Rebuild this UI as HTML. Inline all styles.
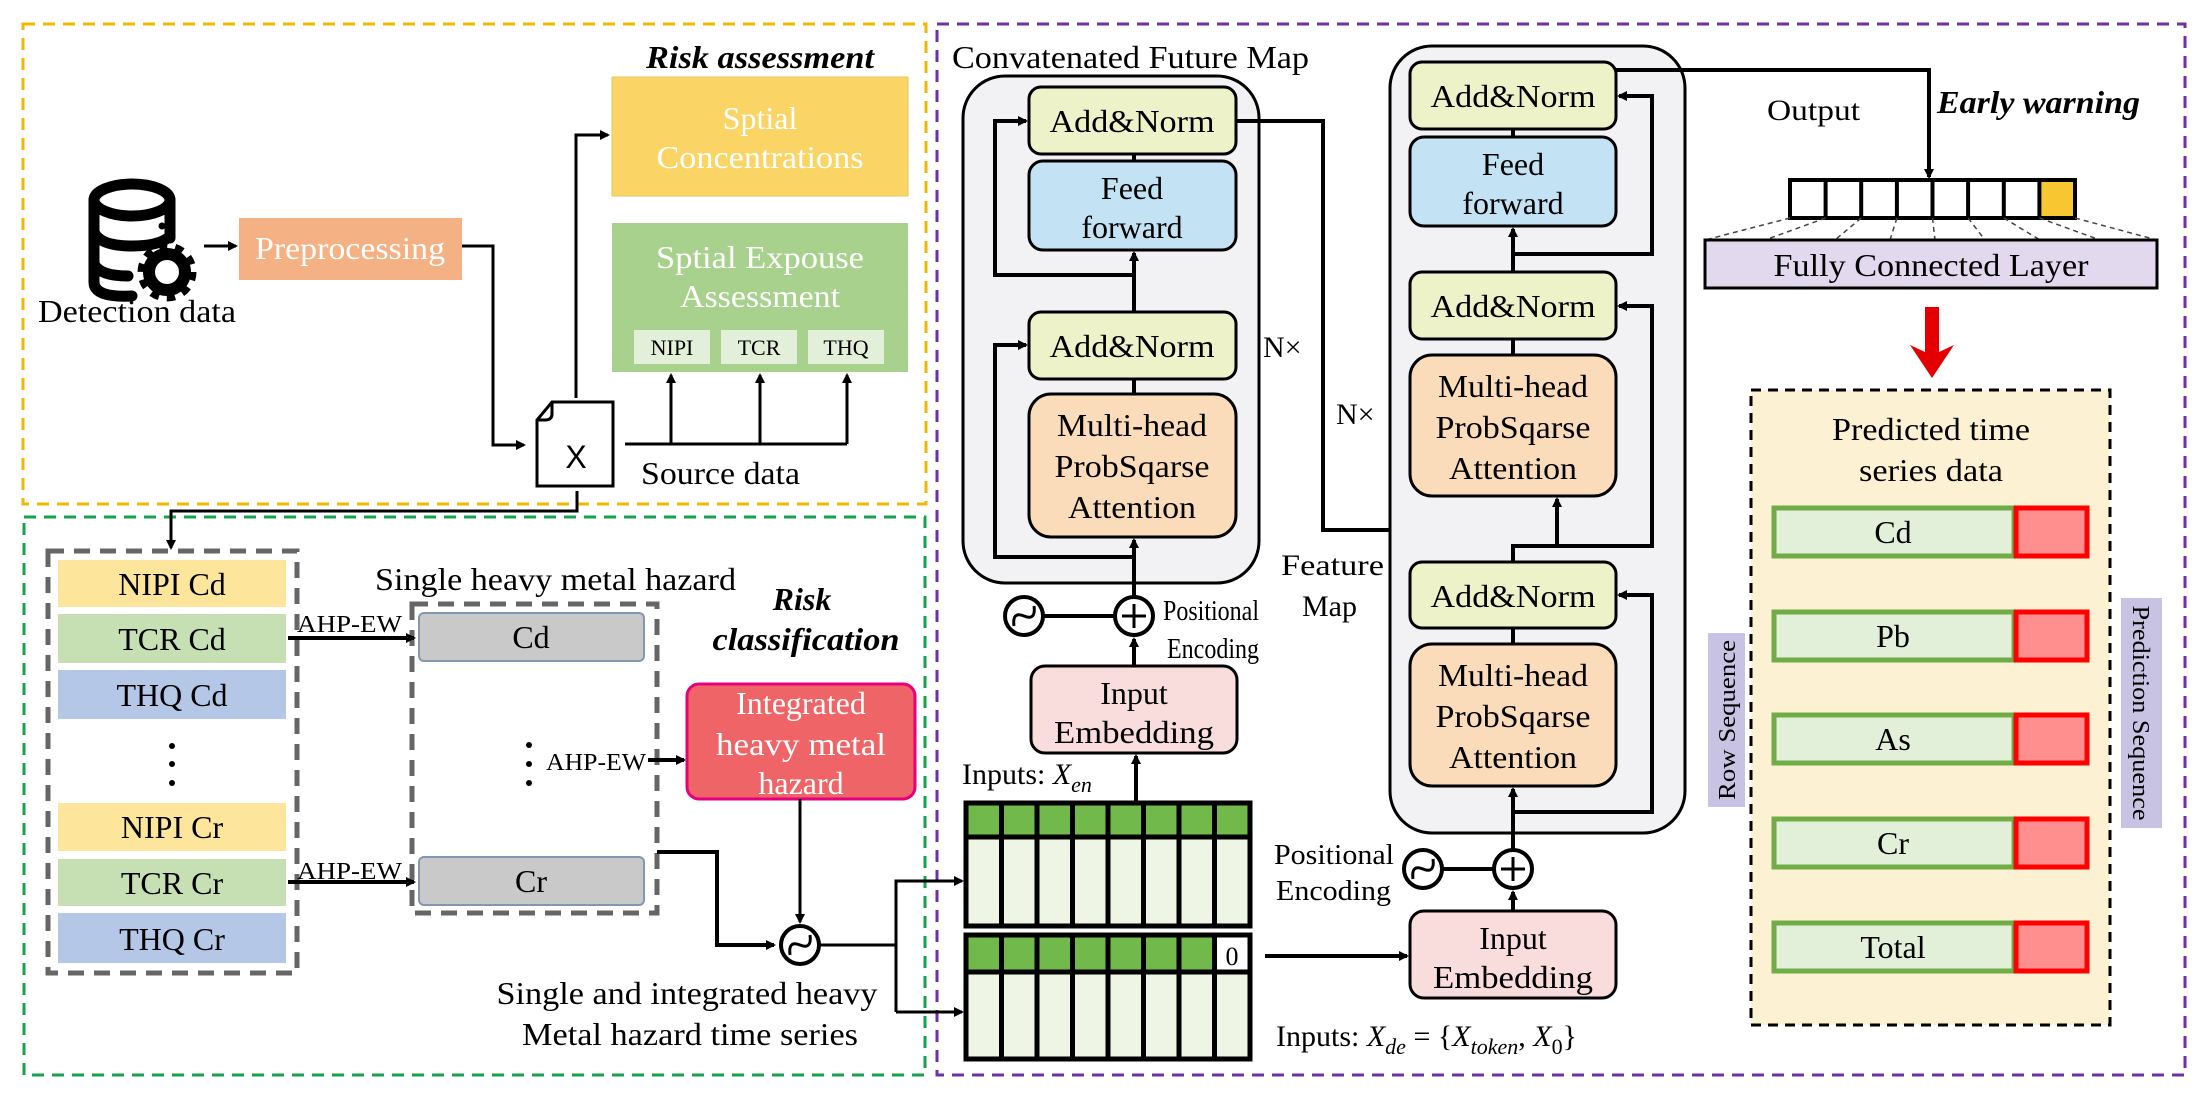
<!DOCTYPE html>
<html><head><meta charset="utf-8"><style>
html,body{margin:0;padding:0;background:#fff;}
svg{display:block;font-family:"Liberation Serif",serif;}
svg text{font-family:"Liberation Serif",serif;}
</style></head><body>
<svg width="2212" height="1097" viewBox="0 0 2212 1097" xmlns="http://www.w3.org/2000/svg" font-family="Liberation Serif, serif">
<defs>
<marker id="a" markerWidth="10" markerHeight="10" refX="8" refY="5" orient="auto" markerUnits="userSpaceOnUse"><path d="M0,0 L10,5 L0,10 z" fill="#000"/></marker>
</defs>
<rect width="2212" height="1097" fill="#fff"/>
<rect x="23" y="24" width="903" height="480" fill="none" stroke="#f2b800" stroke-width="3" stroke-dasharray="12,8"/>
<rect x="24" y="517" width="901" height="558" fill="none" stroke="#16a34a" stroke-width="3" stroke-dasharray="12,8"/>
<rect x="937" y="24" width="1248" height="1051" fill="none" stroke="#7030a0" stroke-width="3" stroke-dasharray="12,8"/>

<g fill="none" stroke="#000" stroke-width="11" stroke-linecap="round">
<ellipse cx="132" cy="200" rx="38" ry="16"/>
<path d="M94,200 V282 Q94,298 132,296"/>
<path d="M170,200 V238"/>
<path d="M94,232 Q100,246 132,246 Q160,246 170,236"/>
<path d="M94,264 Q100,276 128,276"/>
</g>
<circle cx="162" cy="226" r="3.5" fill="#000"/>
<circle cx="167" cy="272" r="18" fill="none" stroke="#000" stroke-width="12"/>
<circle cx="167" cy="272" r="25" fill="none" stroke="#000" stroke-width="9" stroke-dasharray="8,7.7"/>
<text x="137" y="322" font-size="32" text-anchor="middle" textLength="198" lengthAdjust="spacingAndGlyphs">Detection data</text>
<line x1="204" y1="246" x2="236" y2="246" stroke="#000" stroke-width="3" marker-end="url(#a)"/>
<rect x="239" y="218" width="223" height="62" fill="#f4b183"/>
<text x="350" y="259" font-size="32" fill="#fff" text-anchor="middle" textLength="190" lengthAdjust="spacingAndGlyphs">Preprocessing</text>
<polyline points="462,246 493,246 493,445 524,445" fill="none" stroke="#000" stroke-width="3" marker-end="url(#a)"/>

<path d="M552,402 H613 V486 H537 V420 Z" fill="#fff" stroke="#000" stroke-width="3"/>
<path d="M552,402 V414 Q552,420 545,420 H537" fill="none" stroke="#000" stroke-width="3"/>
<text x="576" y="468" font-size="32" text-anchor="middle" font-family="Liberation Sans, sans-serif" style="font-family:'Liberation Sans',sans-serif">X</text>
<polyline points="576,398 576,135 608,135" fill="none" stroke="#000" stroke-width="3" marker-end="url(#a)"/>
<polyline points="625,444 847,444" fill="none" stroke="#000" stroke-width="3"/>
<line x1="671" y1="444" x2="671" y2="375" stroke="#000" stroke-width="3" marker-end="url(#a)"/>
<line x1="760" y1="444" x2="760" y2="375" stroke="#000" stroke-width="3" marker-end="url(#a)"/>
<line x1="847" y1="444" x2="847" y2="375" stroke="#000" stroke-width="3" marker-end="url(#a)"/>
<text x="641" y="484" font-size="32" textLength="159" lengthAdjust="spacingAndGlyphs">Source data</text>
<polyline points="577,491 577,511 171,511 171,548" fill="none" stroke="#000" stroke-width="3" marker-end="url(#a)"/>

<text x="760" y="68" font-size="32" font-weight="bold" font-style="italic" text-anchor="middle" textLength="228" lengthAdjust="spacingAndGlyphs">Risk assessment</text>
<rect x="612" y="77" width="296" height="119" fill="#fad566" stroke="#e8c75a"/>
<text x="760" y="129" font-size="32" fill="#fff" text-anchor="middle">Sptial</text>
<text x="760" y="168" font-size="32" fill="#fff" text-anchor="middle" textLength="207" lengthAdjust="spacingAndGlyphs">Concentrations</text>
<rect x="612" y="223" width="296" height="149" fill="#a9d18e"/>
<text x="760" y="268" font-size="32" fill="#fff" text-anchor="middle" textLength="208" lengthAdjust="spacingAndGlyphs">Sptial Expouse</text>
<text x="760" y="307" font-size="32" fill="#fff" text-anchor="middle" textLength="160" lengthAdjust="spacingAndGlyphs">Assessment</text>
<rect x="634" y="330" width="76" height="34" fill="#e2efd9"/>
<rect x="721" y="330" width="76" height="34" fill="#e2efd9"/>
<rect x="808" y="330" width="76" height="34" fill="#e2efd9"/>
<text x="672" y="355" font-size="22" text-anchor="middle">NIPI</text>
<text x="759" y="355" font-size="22" text-anchor="middle">TCR</text>
<text x="846" y="355" font-size="22" text-anchor="middle">THQ</text>

<rect x="48" y="551" width="249" height="422" fill="none" stroke="#666" stroke-width="5" stroke-dasharray="16,10"/>
<g font-size="32" text-anchor="middle">
<rect x="58" y="560" width="228" height="47" fill="#fde69b"/><text x="172" y="595">NIPI Cd</text>
<rect x="58" y="614" width="228" height="49" fill="#c6e0b4"/><text x="172" y="650">TCR Cd</text>
<rect x="58" y="670" width="228" height="49" fill="#b4c7e7"/><text x="172" y="706">THQ Cd</text>
<rect x="58" y="803" width="228" height="48" fill="#fde69b"/><text x="172" y="838">NIPI Cr</text>
<rect x="58" y="859" width="228" height="47" fill="#c6e0b4"/><text x="172" y="894">TCR Cr</text>
<rect x="58" y="913" width="228" height="50" fill="#b4c7e7"/><text x="172" y="950">THQ Cr</text>
</g>
<circle cx="172" cy="746" r="3" fill="#000"/><circle cx="172" cy="764" r="3" fill="#000"/><circle cx="172" cy="783" r="3" fill="#000"/>
<text x="375" y="590" font-size="32" textLength="361" lengthAdjust="spacingAndGlyphs">Single heavy metal hazard</text>
<rect x="412" y="604" width="245" height="309" fill="none" stroke="#666" stroke-width="5" stroke-dasharray="16,10"/>
<rect x="419" y="613" width="225" height="48" rx="5" fill="#c9c9c9" stroke="#8497b0" stroke-width="2"/>
<text x="531" y="648" font-size="32" text-anchor="middle">Cd</text>
<rect x="419" y="857" width="225" height="48" rx="5" fill="#c9c9c9" stroke="#8497b0" stroke-width="2"/>
<text x="531" y="892" font-size="32" text-anchor="middle">Cr</text>
<text x="297" y="632" font-size="24" textLength="105" lengthAdjust="spacingAndGlyphs">AHP-EW</text>
<line x1="288" y1="638" x2="414" y2="638" stroke="#000" stroke-width="4" marker-end="url(#a)"/>
<text x="297" y="879" font-size="24" textLength="105" lengthAdjust="spacingAndGlyphs">AHP-EW</text>
<line x1="288" y1="882" x2="414" y2="882" stroke="#000" stroke-width="4" marker-end="url(#a)"/>
<circle cx="529" cy="745" r="3" fill="#000"/><circle cx="529" cy="764" r="3" fill="#000"/><circle cx="529" cy="783" r="3" fill="#000"/>
<text x="546" y="770" font-size="24" textLength="100" lengthAdjust="spacingAndGlyphs">AHP-EW</text>
<line x1="648" y1="760" x2="684" y2="760" stroke="#000" stroke-width="4" marker-end="url(#a)"/>
<text x="802" y="610" font-size="32" font-weight="bold" font-style="italic" text-anchor="middle">Risk</text>
<text x="806" y="650" font-size="32" font-weight="bold" font-style="italic" text-anchor="middle" textLength="187" lengthAdjust="spacingAndGlyphs">classification</text>
<rect x="687" y="684" width="228" height="115" rx="12" fill="#ef6567" stroke="#e6007e" stroke-width="3"/>
<g font-size="32" fill="#fff" text-anchor="middle">
<text x="801" y="714">Integrated</text>
<text x="801" y="755" textLength="170" lengthAdjust="spacingAndGlyphs">heavy metal</text>
<text x="801" y="794">hazard</text>
</g>
<line x1="800" y1="799" x2="800" y2="922" stroke="#000" stroke-width="3" marker-end="url(#a)"/>
<polyline points="657,852 717,852 717,945 774,945" fill="none" stroke="#000" stroke-width="4" marker-end="url(#a)"/>
<circle cx="800" cy="945" r="19" fill="#fff" stroke="#000" stroke-width="4"/>
<path d="M790,955 Q788,940 800,945 Q812,950 810,935" fill="none" stroke="#000" stroke-width="3"/>
<polyline points="820,945 896,945" fill="none" stroke="#000" stroke-width="3"/>
<polyline points="896,1012 896,881 962,881" fill="none" stroke="#000" stroke-width="3" marker-end="url(#a)"/>
<line x1="896" y1="1012" x2="962" y2="1012" stroke="#000" stroke-width="3" marker-end="url(#a)"/>
<text x="687" y="1004" font-size="32" text-anchor="middle" textLength="381" lengthAdjust="spacingAndGlyphs">Single and integrated heavy</text>
<text x="690" y="1045" font-size="32" text-anchor="middle" textLength="336" lengthAdjust="spacingAndGlyphs">Metal hazard time series</text>

<g stroke="#000" stroke-width="5">
<rect x="966" y="803" width="284" height="123" fill="#eef5e4"/>
<rect x="966" y="803" width="284" height="34" fill="#70b94a"/>
<rect x="966" y="935" width="284" height="124" fill="#eef5e4"/>
<rect x="966" y="935" width="284" height="37" fill="#70b94a"/>
<rect x="1214.5" y="935" width="35.5" height="37" fill="#fff"/>
<path d="M1001.5,803V926M1037,803V926M1072.5,803V926M1108,803V926M1143.5,803V926M1179,803V926M1214.5,803V926"/>
<path d="M1001.5,935V1059M1037,935V1059M1072.5,935V1059M1108,935V1059M1143.5,935V1059M1179,935V1059M1214.5,935V1059"/>
</g>
<text x="1232" y="965" font-size="26" text-anchor="middle">0</text>

<text x="952" y="68" font-size="32" textLength="357" lengthAdjust="spacingAndGlyphs">Convatenated Future Map</text>
<rect x="963" y="76" width="296" height="507" rx="42" fill="#f2f2f4" stroke="#000" stroke-width="3"/>
<g stroke="#000" stroke-width="3">
<rect x="1029" y="87" width="207" height="67" rx="12" fill="#edf2c8"/>
<rect x="1029" y="161" width="207" height="89" rx="14" fill="#c3e3f5"/>
<rect x="1029" y="312" width="207" height="67" rx="12" fill="#edf2c8"/>
<rect x="1029" y="394" width="207" height="143" rx="22" fill="#fbdcba"/>
</g>
<g font-size="32" text-anchor="middle">
<text x="1132" y="132" textLength="165" lengthAdjust="spacingAndGlyphs">Add&amp;Norm</text>
<text x="1132" y="199">Feed</text><text x="1132" y="238">forward</text>
<text x="1132" y="357" textLength="165" lengthAdjust="spacingAndGlyphs">Add&amp;Norm</text>
<text x="1132" y="436" textLength="150" lengthAdjust="spacingAndGlyphs">Multi-head</text>
<text x="1132" y="477" textLength="155" lengthAdjust="spacingAndGlyphs">ProbSqarse</text>
<text x="1132" y="518" textLength="128" lengthAdjust="spacingAndGlyphs">Attention</text>
</g>
<g fill="none" stroke="#000" stroke-width="4">
<line x1="1134" y1="154" x2="1134" y2="161"/>
<line x1="1134" y1="379" x2="1134" y2="394"/>
<line x1="1134" y1="312" x2="1134" y2="253" marker-end="url(#a)"/>
<polyline points="1134,275 995,275 995,121 1026,121" marker-end="url(#a)"/>
<polyline points="1134,557 995,557 995,345 1026,345" marker-end="url(#a)"/>
<line x1="1134" y1="596" x2="1134" y2="540" marker-end="url(#a)"/>
<line x1="1134" y1="666" x2="1134" y2="639" marker-end="url(#a)"/>
<line x1="1136" y1="803" x2="1136" y2="756" marker-end="url(#a)"/>
<line x1="1044" y1="616" x2="1114" y2="616"/>
<polyline points="1236,121 1323,121 1323,530 1513,530 1513,499" marker-end="url(#a)"/>
</g>
<circle cx="1134" cy="616" r="19" fill="#fff" stroke="#000" stroke-width="4"/>
<path d="M1134,604V628M1122,616H1146" stroke="#000" stroke-width="3"/>
<circle cx="1024" cy="616" r="19" fill="#fff" stroke="#000" stroke-width="4"/>
<path d="M1014,626 Q1012,611 1024,616 Q1036,621 1034,606" fill="none" stroke="#000" stroke-width="3"/>
<text x="1163" y="620" font-size="28" textLength="96" lengthAdjust="spacingAndGlyphs">Positional</text>
<text x="1167" y="658" font-size="28" textLength="92" lengthAdjust="spacingAndGlyphs">Encoding</text>
<rect x="1031" y="666" width="206" height="87" rx="14" fill="#f9dcdc" stroke="#000" stroke-width="3"/>
<text x="1134" y="704" font-size="32" text-anchor="middle">Input</text>
<text x="1134" y="743" font-size="32" text-anchor="middle" textLength="160" lengthAdjust="spacingAndGlyphs">Embedding</text>
<text x="962" y="784" font-size="30">Inputs: <tspan font-style="italic">X</tspan><tspan font-style="italic" font-size="22" dy="8">en</tspan></text>
<text x="1263" y="357" font-size="30">N×</text>
<text x="1336" y="424" font-size="30">N×</text>

<rect x="1390" y="46" width="295" height="787" rx="42" fill="#f2f2f4" stroke="#000" stroke-width="3"/>
<g stroke="#000" stroke-width="3">
<rect x="1410" y="62" width="206" height="67" rx="12" fill="#edf2c8"/>
<rect x="1410" y="137" width="206" height="89" rx="14" fill="#c3e3f5"/>
<rect x="1410" y="272" width="206" height="67" rx="12" fill="#edf2c8"/>
<rect x="1410" y="355" width="206" height="141" rx="22" fill="#fbdcba"/>
<rect x="1410" y="562" width="206" height="66" rx="12" fill="#edf2c8"/>
<rect x="1410" y="644" width="206" height="142" rx="22" fill="#fbdcba"/>
<rect x="1410" y="911" width="206" height="87" rx="14" fill="#f9dcdc"/>
</g>
<g font-size="32" text-anchor="middle">
<text x="1513" y="107" textLength="165" lengthAdjust="spacingAndGlyphs">Add&amp;Norm</text>
<text x="1513" y="175">Feed</text><text x="1513" y="214">forward</text>
<text x="1513" y="317" textLength="165" lengthAdjust="spacingAndGlyphs">Add&amp;Norm</text>
<text x="1513" y="397" textLength="150" lengthAdjust="spacingAndGlyphs">Multi-head</text>
<text x="1513" y="438" textLength="155" lengthAdjust="spacingAndGlyphs">ProbSqarse</text>
<text x="1513" y="479" textLength="128" lengthAdjust="spacingAndGlyphs">Attention</text>
<text x="1513" y="607" textLength="165" lengthAdjust="spacingAndGlyphs">Add&amp;Norm</text>
<text x="1513" y="686" textLength="150" lengthAdjust="spacingAndGlyphs">Multi-head</text>
<text x="1513" y="727" textLength="155" lengthAdjust="spacingAndGlyphs">ProbSqarse</text>
<text x="1513" y="768" textLength="128" lengthAdjust="spacingAndGlyphs">Attention</text>
<text x="1513" y="949">Input</text>
<text x="1513" y="988" textLength="160" lengthAdjust="spacingAndGlyphs">Embedding</text>
</g>
<g fill="none" stroke="#000" stroke-width="4">
<line x1="1513" y1="129" x2="1513" y2="137"/>
<line x1="1513" y1="339" x2="1513" y2="355"/>
<line x1="1513" y1="628" x2="1513" y2="644"/>
<line x1="1513" y1="272" x2="1513" y2="229" marker-end="url(#a)"/>
<polyline points="1513,254 1652,254 1652,96 1619,96" marker-end="url(#a)"/>
<polyline points="1513,562 1513,546 1652,546 1652,306 1619,306" marker-end="url(#a)"/>
<line x1="1557" y1="546" x2="1557" y2="499" marker-end="url(#a)"/>
<polyline points="1513,812 1652,812 1652,595 1619,595" marker-end="url(#a)"/>
<line x1="1513" y1="849" x2="1513" y2="789" marker-end="url(#a)"/>
<line x1="1513" y1="911" x2="1513" y2="892" marker-end="url(#a)"/>
<line x1="1443" y1="869" x2="1493" y2="869"/>
<line x1="1265" y1="956" x2="1407" y2="956" marker-end="url(#a)"/>
<polyline points="1616,70 1929,70 1929,177" marker-end="url(#a)"/>
</g>
<circle cx="1513" cy="869" r="19" fill="#fff" stroke="#000" stroke-width="4"/>
<path d="M1513,857V881M1501,869H1525" stroke="#000" stroke-width="3"/>
<circle cx="1423" cy="869" r="19" fill="#fff" stroke="#000" stroke-width="4"/>
<path d="M1413,879 Q1411,864 1423,869 Q1435,874 1433,859" fill="none" stroke="#000" stroke-width="3"/>
<text x="1274" y="864" font-size="28" textLength="120" lengthAdjust="spacingAndGlyphs">Positional</text>
<text x="1276" y="900" font-size="28" textLength="115" lengthAdjust="spacingAndGlyphs">Encoding</text>
<text x="1281" y="575" font-size="30" textLength="103" lengthAdjust="spacingAndGlyphs">Feature</text>
<text x="1302" y="616" font-size="30">Map</text>
<text x="1276" y="1046" font-size="30">Inputs: <tspan font-style="italic">X</tspan><tspan font-style="italic" font-size="22" dy="8">de</tspan><tspan dy="-8"> = {</tspan><tspan font-style="italic">X</tspan><tspan font-style="italic" font-size="22" dy="8">token</tspan><tspan dy="-8">, </tspan><tspan font-style="italic">X</tspan><tspan font-size="22" dy="8">0</tspan><tspan dy="-8">}</tspan></text>

<text x="1767" y="120" font-size="30" textLength="93" lengthAdjust="spacingAndGlyphs">Output</text>
<text x="1937" y="113" font-size="32" font-weight="bold" font-style="italic" textLength="203" lengthAdjust="spacingAndGlyphs">Early warning</text>
<g stroke="#000" stroke-width="4">
<rect x="1790" y="180" width="285" height="38" fill="#fff"/>
<rect x="2039.4" y="180" width="35.6" height="38" fill="#f8c630"/>
<path d="M1825.6,180V218M1861.2,180V218M1896.9,180V218M1932.5,180V218M1968.1,180V218M2003.8,180V218"/>
</g>
<g stroke="#444" stroke-width="1.5" stroke-dasharray="5,4" fill="none">
<path d="M1790,218L1705,240M1825.6,218L1765,240M1861.2,218L1835,240M1896.9,218L1890,240M1932.5,218L1935,240M1968.1,218L1985,240M2003.8,218L2040,240M2039.4,218L2100,240M2075,218L2157,240"/>
</g>
<rect x="1705" y="240" width="452" height="48" fill="#e2d9ef" stroke="#000" stroke-width="3"/>
<text x="1931" y="276" font-size="32" text-anchor="middle" textLength="315" lengthAdjust="spacingAndGlyphs">Fully Connected Layer</text>
<path d="M1925,307 L1939,307 L1939,352 L1954,345 L1932,378 L1910,345 L1925,352 Z" fill="#e40000"/>
<rect x="1751" y="390" width="359" height="635" fill="#fdf1d3" stroke="#000" stroke-width="3" stroke-dasharray="10,7"/>
<text x="1931" y="440" font-size="32" text-anchor="middle" textLength="198" lengthAdjust="spacingAndGlyphs">Predicted time</text>
<text x="1931" y="481" font-size="32" text-anchor="middle" textLength="144" lengthAdjust="spacingAndGlyphs">series data</text>
<g stroke-width="5">
<rect x="1774" y="508" width="240" height="48" fill="#e2efd9" stroke="#70ad47"/><rect x="2016" y="508" width="71" height="48" fill="#ff8f8f" stroke="#ff0000"/>
<rect x="1774" y="612" width="240" height="48" fill="#e2efd9" stroke="#70ad47"/><rect x="2016" y="612" width="71" height="48" fill="#ff8f8f" stroke="#ff0000"/>
<rect x="1774" y="715" width="240" height="48" fill="#e2efd9" stroke="#70ad47"/><rect x="2016" y="715" width="71" height="48" fill="#ff8f8f" stroke="#ff0000"/>
<rect x="1774" y="819" width="240" height="48" fill="#e2efd9" stroke="#70ad47"/><rect x="2016" y="819" width="71" height="48" fill="#ff8f8f" stroke="#ff0000"/>
<rect x="1774" y="923" width="240" height="48" fill="#e2efd9" stroke="#70ad47"/><rect x="2016" y="923" width="71" height="48" fill="#ff8f8f" stroke="#ff0000"/>
</g>
<g font-size="32" text-anchor="middle">
<text x="1893" y="543">Cd</text><text x="1893" y="647">Pb</text><text x="1893" y="750">As</text><text x="1893" y="854">Cr</text><text x="1893" y="958">Total</text>
</g>
<rect x="1708" y="633" width="37" height="174" fill="#c9c3e3"/>
<text transform="translate(1735,720) rotate(-90)" font-size="24" text-anchor="middle" textLength="160" lengthAdjust="spacingAndGlyphs">Row Sequence</text>
<rect x="2121" y="598" width="41" height="230" fill="#c9c3e3"/>
<text transform="translate(2133,713) rotate(90)" font-size="24" text-anchor="middle" textLength="215" lengthAdjust="spacingAndGlyphs">Prediction Sequence</text>
</svg>
</body></html>
